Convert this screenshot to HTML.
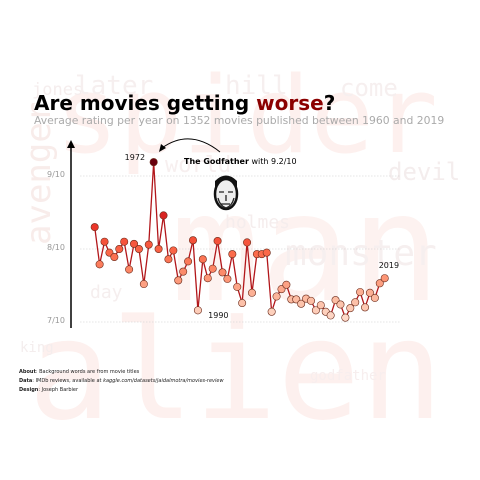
<!DOCTYPE html>
<html><head><meta charset="utf-8"><style>
html,body{margin:0;padding:0;background:#fff;}
svg{display:block;font-family:"DejaVu Sans","Liberation Sans",sans-serif;}
</style></head><body>
<svg id="chart" width="480" height="480" viewBox="0 0 480 480">
<g font-family="DejaVu Sans Mono, Liberation Mono, monospace">
<text x="55" y="152" font-size="106" fill="#fdf0ee">spider</text>
<text x="170" y="300" font-size="150" fill="#fdf2f0">man</text>
<text x="28" y="418" font-size="138" fill="#fdf0ee">alien</text>
<text x="50" y="245" font-size="34" transform="rotate(-90 50 245)" fill="#f8ecea">avenger</text>
<text x="32" y="95" font-size="17" fill="#f5eded">jones</text>
<text x="75" y="94" font-size="26" fill="#f6efef">later</text>
<text x="225" y="94" font-size="26" fill="#f6efef">hill</text>
<text x="340" y="96" font-size="24" fill="#f6efef">come</text>
<text x="388" y="180" font-size="24" fill="#f4eded">devil</text>
<text x="285" y="265" font-size="36" fill="#f6efef">monster</text>
<text x="165" y="172" font-size="22" fill="#f7efef">world</text>
<text x="225" y="228" font-size="18" fill="#f5eded">holmes</text>
<text x="310" y="380" font-size="14" fill="#f7eeee">godfather</text>
<text x="20" y="352" font-size="14" fill="#f4eded">king</text>
<text x="90" y="298" font-size="18" fill="#f5eeee">day</text>
</g>
<text x="34" y="110" font-size="20" font-weight="bold" fill="#000">Are movies getting <tspan fill="#8b0000">worse</tspan>?</text>
<text x="34" y="124" font-size="10.8" fill="#aaa">Average rating per year on 1352 movies published between 1960 and 2019</text>
<g id="grid"></g>
<g id="yticks"></g>
<line x1="71" y1="328" x2="71" y2="146" stroke="#000" stroke-width="1.5"/>
<polygon points="71,140 67,148 75,148" fill="#000"/>
<path d="M220,152 Q190,128 162,148" fill="none" stroke="#000" stroke-width="1"/>
<polygon points="159,152 161,144 166,148" fill="#000"/>
<text x="184" y="164" font-size="8" fill="#000"><tspan font-weight="bold">The Godfather</tspan> with 9.2/10</text>
<g>
<ellipse cx="226" cy="194" rx="11" ry="15" fill="#eee" stroke="#111" stroke-width="2.5"/>
<path d="M215,188 Q226,172 237,188 L237,181 Q226,170 215,181Z" fill="#111"/>
<path d="M219,192 h5 M228,192 h5 M226,195 v6 M221,204 h9 M218,198 q2,8 8,10 M234,198 q-2,8 -8,10" stroke="#222" stroke-width="1.3" fill="none"/>
</g>
<g id="series"></g>
<g id="labels"></g>
<g font-size="5" fill="#222">
<text x="19" y="373"><tspan font-weight="bold">About</tspan>: Background words are from movie titles</text>
<text x="19" y="382"><tspan font-weight="bold">Data</tspan>: IMDb reviews, available at <tspan font-style="italic">kaggle.com/datasets/jaidalmotra/movies-review</tspan></text>
<text x="19" y="391"><tspan font-weight="bold">Design</tspan>: Joseph Barbier</text>
</g>
</svg>
<script>
const years = [];
for (let y = 1960; y <= 2019; y++) years.push(y);
const ratings = [8.30,7.79,8.10,7.95,7.89,8.00,8.10,7.72,8.07,8.00,7.52,8.06,9.19,8.00,8.46,7.86,7.98,7.57,7.69,7.83,8.12,7.16,7.86,7.60,7.73,8.11,7.68,7.59,7.93,7.48,7.26,8.09,7.40,7.93,7.93,7.95,7.14,7.35,7.45,7.51,7.31,7.31,7.25,7.32,7.29,7.16,7.23,7.14,7.09,7.30,7.24,7.06,7.19,7.27,7.41,7.20,7.40,7.33,7.53,7.60];
const tickValues = [7, 8, 9];
const tickLabels = ["7/10", "8/10", "9/10"];
const labeledYears = [1972, 1990, 2019];

const NS = "http://www.w3.org/2000/svg";
const xScale = yr => 94.7 + (yr - 1960) * (384.7 - 94.7) / 59;
const yScale = v => 176 + (9 - v) * 73;
const reds = [[254,224,210],[252,187,161],[252,146,114],[251,106,74],[239,59,44],[203,24,29],[165,15,21],[103,0,13]];
function color(v){
  let t = Math.max(0, Math.min(1, (v - 7.0) / 2.2));
  const p = t * (reds.length - 1), i = Math.min(reds.length - 2, Math.floor(p)), f = p - i;
  const c = reds[i].map((a, k) => Math.round(a + (reds[i+1][k] - a) * f));
  return `rgb(${c.join(",")})`;
}
const grid = document.getElementById("grid"), yt = document.getElementById("yticks");
tickValues.forEach((v, i) => {
  const l = document.createElementNS(NS, "line");
  
  
  l.setAttribute("x1", 80); l.setAttribute("x2", 400);
  l.setAttribute("y1", yScale(v)); l.setAttribute("y2", yScale(v));
  l.setAttribute("stroke", "#ccc"); l.setAttribute("stroke-width", "0.6"); l.setAttribute("stroke-dasharray", "1.5,1.5");
  grid.appendChild(l);
  const t = document.createElementNS(NS, "text");
  
  
  t.setAttribute("x", 47); t.setAttribute("y", yScale(v) + 1);
  t.setAttribute("font-size", "8"); t.setAttribute("fill", "#999");
  t.textContent = tickLabels[i];
  yt.appendChild(t);
});
const s = document.getElementById("series");
const pl = document.createElementNS(NS, "polyline");


pl.setAttribute("points", years.map((y, i) => xScale(y) + "," + yScale(ratings[i])).join(" "));
pl.setAttribute("fill", "none"); pl.setAttribute("stroke", "#b2161a"); pl.setAttribute("stroke-width", "1.3");
s.appendChild(pl);
years.forEach((y, i) => {
  const c = document.createElementNS(NS, "circle");
  
  
  c.setAttribute("cx", xScale(y)); c.setAttribute("cy", yScale(ratings[i])); c.setAttribute("r", 3.7);
  c.setAttribute("fill", color(ratings[i])); c.setAttribute("stroke", "#6b2a1a"); c.setAttribute("stroke-width", "0.6");
  s.appendChild(c);
});
const lb = document.getElementById("labels");
const offs = {1972: [-29, -2], 1990: [-34, 15], 2019: [-6, -10]};
labeledYears.forEach(y => {
  const i = years.indexOf(y);
  const t = document.createElementNS(NS, "text");
  
  
  t.setAttribute("x", xScale(y) + offs[y][0]); t.setAttribute("y", yScale(ratings[i]) + offs[y][1]);
  t.setAttribute("font-size", "8"); t.setAttribute("fill", "#111");
  t.textContent = y;
  lb.appendChild(t);
});
</script>
</body></html>
